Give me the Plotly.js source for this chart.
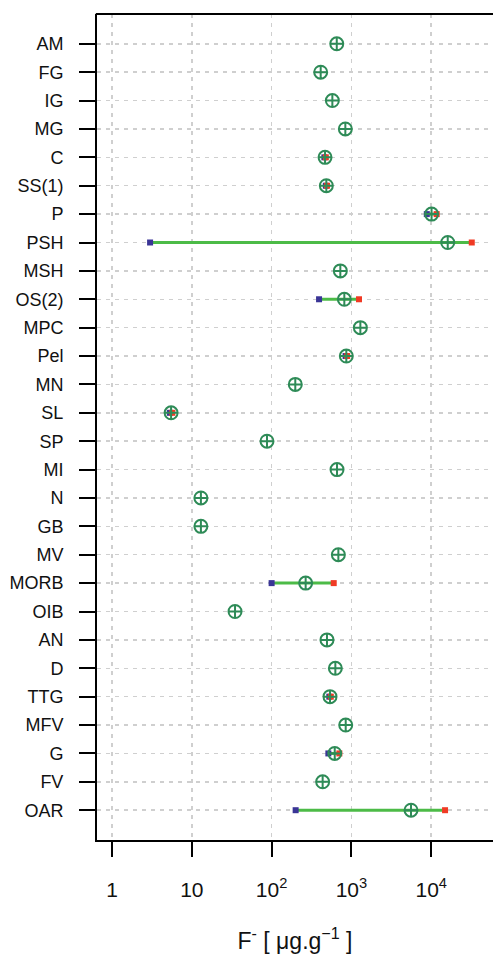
<!DOCTYPE html>
<html>
<head>
<meta charset="utf-8">
<script src="https://cdn.plot.ly/plotly-3.0.1.min.js"></script>
<style>html,body{margin:0;padding:0;background:#fff;}#chart{width:493px;height:954px;}</style>
</head>
<body>
<div id="chart"></div>
<script>
const categories = ["AM","FG","IG","MG","C","SS(1)","P","PSH","MSH","OS(2)","MPC","Pel","MN","SL","SP","MI","N","GB","MV","MORB","OIB","AN","D","TTG","MFV","G","FV","OAR"];
const meanValues = [655,412,577,839,467,485,10100,16100,726,815,1294,863,198,5.5,87.5,660,13.0,13.0,686,267,34.8,494,629,539,848,618,436,5580];
const minValues  = [null,null,null,null,458,478,8800,3.0,null,393,null,845,null,5.3,null,null,null,null,null,100,null,null,null,528,null,514,null,200];
const maxValues  = [null,null,null,null,478,495,11700,32200,null,1245,null,885,null,5.7,null,null,null,null,null,600,null,null,null,552,null,706,null,14900];
const xTickVals = [1,10,100,1000,10000];
const xTickText = ["1","10","10<sup>2</sup>","10<sup>3</sup>","10<sup>4</sup>"];

const lx = [], ly = [], bx = [], by = [], rx = [], ry = [];
categories.forEach((c,i)=>{
  if (minValues[i] !== null && maxValues[i] !== null) {
    lx.push(minValues[i], maxValues[i], null); ly.push(c, c, null);
  }
  if (minValues[i] !== null) { bx.push(minValues[i]); by.push(c); }
  if (maxValues[i] !== null) { rx.push(maxValues[i]); ry.push(c); }
});

const traces = [
  {x: lx, y: ly, type:'scatter', mode:'lines', line:{color:'#4cbb47', width:3}, hoverinfo:'skip', showlegend:false},
  {x: bx, y: by, type:'scatter', mode:'markers', marker:{symbol:'square', size:6, color:'#3a3596'}, showlegend:false},
  {x: rx, y: ry, type:'scatter', mode:'markers', marker:{symbol:'square', size:6, color:'#f03a24'}, showlegend:false},
  {x: meanValues, y: categories, type:'scatter', mode:'markers',
   marker:{symbol:'circle-cross-open', size:13, color:'#2e8b57', line:{width:2, color:'#2e8b57'}}, showlegend:false}
];

const layout = {
  width: 493, height: 954,
  margin: {l:97, r:0, t:14, b:114},
  paper_bgcolor:'#fff', plot_bgcolor:'#fff',
  font: {family:'Liberation Sans, Arial, sans-serif', color:'#111'},
  xaxis: {
    type:'log', range:[-0.188, 4.774],
    tickvals: xTickVals, ticktext: xTickText,
    ticks:'outside', ticklen:15, tickwidth:2, tickcolor:'#000',
    tickfont:{size:21, color:'#111'}, ticklabelstandoff: 15,
    showline:true, linecolor:'#000', linewidth:2,
    showgrid:true, gridcolor:'#cfcfcf', gridwidth:1.5, griddash:'4px,5px',
    zeroline:false,
    title:{text:'F<sup>-</sup> [ μg.g<sup>−1</sup> ]', font:{size:23, color:'#111'}, standoff:40}
  },
  yaxis: {
    type:'category', categoryorder:'array', categoryarray: categories,
    range:[categories.length - 1 + 1.05, -1.05],
    ticks:'outside', ticklen:16, tickwidth:2, tickcolor:'#000',
    tickfont:{size:18, color:'#111'}, ticklabelstandoff: 12,
    showline:true, linecolor:'#000', linewidth:2,
    showgrid:true, gridcolor:'#cfcfcf', gridwidth:1.5, griddash:'4px,5px',
    zeroline:false
  },
  shapes: [
    {type:'line', xref:'paper', yref:'paper', x0:-0.003, x1:1.02, y0:1, y1:1, line:{color:'#000', width:2}}
  ]
};

Plotly.newPlot('chart', traces, layout, {displayModeBar:false, staticPlot:true});
</script>
</body>
</html>
